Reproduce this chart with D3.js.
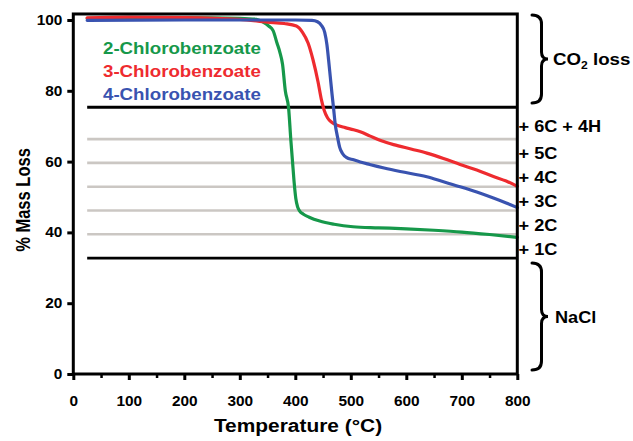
<!DOCTYPE html>
<html>
<head>
<meta charset="utf-8">
<script src="https://cdn.jsdelivr.net/npm/d3@7"></script>
<style>
  html, body { margin: 0; padding: 0; background: #fff; }
  svg { display: block; }
  text { font-family: "Liberation Sans", Arial, Helvetica, sans-serif; font-weight: bold; }
</style>
</head>
<body>
<svg id="chart" width="633" height="441"></svg>
<script>
// ---------------- DATA ----------------
const seriesNames = ["2-Chlorobenzoate", "3-Chlorobenzoate", "4-Chlorobenzoate"];
const seriesColors = ["#16984a", "#ee2b2f", "#3953b0"];

const tempGreen = [25, 100, 200, 300, 330, 342, 352, 360, 367, 372, 377, 382, 388, 392, 395, 398, 401, 404, 408, 414, 425, 444, 470, 504, 550, 600, 650, 700, 750, 800];
const massGreen = [100.5, 100.7, 100.7, 100.5, 100.2, 99.4, 98.3, 97.0, 93.5, 91.0, 87.5, 80.0, 75.0, 66.0, 60.0, 54.0, 49.5, 47.3, 46.0, 45.2, 44.3, 43.2, 42.3, 41.6, 41.3, 41.0, 40.6, 40.1, 39.4, 38.6];

const tempRed = [25, 100, 200, 300, 350, 380, 402, 413, 423, 432, 441, 447, 452, 458, 465, 475, 490, 505, 517, 535, 555, 577, 610, 637, 667, 697, 727, 757, 780, 800];
const massRed = [100.6, 100.8, 100.7, 100.2, 99.4, 99.0, 98.3, 96.5, 93.5, 88.7, 82.5, 77.5, 74.5, 72.4, 71.2, 70.3, 69.6, 69.0, 68.4, 67.2, 65.9, 64.8, 63.5, 62.4, 60.9, 59.2, 57.6, 55.8, 54.5, 53.0];

const tempBlue = [25, 200, 300, 400, 430, 440, 447, 453, 457, 460, 463, 466, 469, 472, 476, 480, 485, 492, 505, 517, 534, 560, 589, 637, 667, 697, 727, 757, 780, 800];
const massBlue = [99.9, 100.0, 100.0, 100.0, 99.9, 99.5, 98.5, 96.5, 93.0, 88.7, 84.0, 79.3, 75.0, 70.5, 67.0, 64.0, 62.3, 61.2, 60.5, 59.9, 59.2, 58.2, 57.2, 55.7, 54.3, 52.9, 51.4, 49.7, 48.3, 47.0];

// Reference levels (% of sodium chlorobenzoate mass)
const blackLevels = [75.35, 32.73];
const grayLevels = [66.36, 59.64, 52.91, 46.18, 39.46];
const fragmentLabels = ["+ 6C + 4H", "+ 5C", "+ 4C", "+ 3C", "+ 2C", "+ 1C"];
const fragmentBounds = [75.35, 66.36, 59.64, 52.91, 46.18, 39.46, 32.73];
const levelStartTemp = 25;

const xTicks = [0, 100, 200, 300, 400, 500, 600, 700, 800];
const xMinorTicks = [50, 150, 250, 350, 450, 550, 650, 750];
const yTicks = [0, 20, 40, 60, 80, 100];

const xDomain = [0, 800];
const yDomain = [0, 100];

// ---------------- LAYOUT ----------------
const SX = 1.1; // horizontal glyph stretch of the original
const svg = d3.select("#chart");
const x = d3.scaleLinear().domain(xDomain).range([73.3, 517.3]);
const y = d3.scaleLinear().domain(yDomain).range([374, 20]);
const yTop = 101.7;

function stretchText(g, px, py, str, size, anchor, color) {
  return g.append("text")
    .attr("transform", `translate(${px},${py}) scale(${SX},1)`)
    .attr("text-anchor", anchor || "start")
    .attr("font-size", size)
    .attr("fill", color || "#000")
    .text(str);
}

// reference lines
const refG = svg.append("g");
refG.selectAll("line.gray").data(grayLevels).join("line")
  .attr("class", "gray")
  .attr("x1", x(levelStartTemp)).attr("x2", x(800))
  .attr("y1", d => y(d)).attr("y2", d => y(d))
  .attr("stroke", "#cbc7c3").attr("stroke-width", 2.6);
refG.selectAll("line.black").data(blackLevels).join("line")
  .attr("class", "black")
  .attr("x1", x(levelStartTemp)).attr("x2", x(800))
  .attr("y1", d => y(d)).attr("y2", d => y(d))
  .attr("stroke", "#000").attr("stroke-width", 2.8);

// curves
const series = [
  { t: tempGreen, m: massGreen },
  { t: tempRed, m: massRed },
  { t: tempBlue, m: massBlue }
];
const line = d3.line()
  .x(d => x(d[0])).y(d => y(d[1]))
  .curve(d3.curveMonotoneX);
series.forEach((s, i) => {
  const pts = s.t.map((t, k) => [t, s.m[k]]);
  svg.append("path")
    .datum(pts)
    .attr("d", line)
    .attr("fill", "none")
    .attr("stroke", seriesColors[i])
    .attr("stroke-width", 3.2)
    .attr("stroke-linejoin", "round")
    .attr("stroke-linecap", "round");
});

// frame (top and right)
svg.append("rect")
  .attr("x", x(0)).attr("y", y(yTop))
  .attr("width", x(800) - x(0)).attr("height", y(0) - y(yTop))
  .attr("fill", "none").attr("stroke", "#000").attr("stroke-width", 3);

// axes
const yAxis = d3.axisLeft(y).tickValues(yTicks).tickSize(6).tickSizeOuter(0).tickPadding(4);
const yG = svg.append("g").attr("transform", `translate(${x(0)},0)`).call(yAxis);
yG.select(".domain").remove();
yG.selectAll(".tick line").attr("stroke", "#000").attr("stroke-width", 3);
yG.selectAll(".tick text")
  .attr("font-size", 14).attr("fill", "#000")
  .attr("font-family", "'Liberation Sans', Arial, sans-serif")
  .attr("font-weight", "bold")
  .attr("transform", `scale(${SX},1)`);

const xAxis = d3.axisBottom(x).tickValues(xTicks).tickSize(6).tickSizeOuter(0).tickPadding(16);
const xG = svg.append("g").attr("transform", `translate(0,${y(0)})`).call(xAxis);
xG.select(".domain").remove();
xG.selectAll(".tick line").attr("stroke", "#000").attr("stroke-width", 3);
xG.selectAll(".tick text")
  .attr("font-size", 14).attr("fill", "#000")
  .attr("font-family", "'Liberation Sans', Arial, sans-serif")
  .attr("font-weight", "bold")
  .attr("transform", `scale(${SX},1)`);

const xMinor = d3.axisBottom(x).tickValues(xMinorTicks).tickSize(4).tickSizeOuter(0).tickFormat("");
const xmG = svg.append("g").attr("transform", `translate(0,${y(0)})`).call(xMinor);
xmG.select(".domain").remove();
xmG.selectAll(".tick line").attr("stroke", "#000").attr("stroke-width", 2.5);

// axis titles
stretchText(svg, 298, 432, "Temperature (°C)", 19, "middle");
svg.append("text")
  .attr("transform", `translate(30,200) rotate(-90) scale(1,1.2)`)
  .attr("text-anchor", "middle")
  .attr("font-size", 16.5)
  .text("% Mass Loss");

// legend
const legendY = [54, 77, 100];
seriesNames.forEach((n, i) => {
  stretchText(svg, 103, legendY[i], n, 17, "start", seriesColors[i]);
});

// fragment labels on the right
fragmentLabels.forEach((lab, i) => {
  const mid = (fragmentBounds[i] + fragmentBounds[i + 1]) / 2;
  stretchText(svg, 518.5, y(mid) + 2.5 + 6, lab, 16.5, "start");
});

// braces
function brace(x0, xs, xt, y0, y1) {
  const ym = (y0 + y1) / 2;
  const p = d3.path();
  p.moveTo(x0, y0);
  p.quadraticCurveTo(xs, y0, xs, y0 + 9);
  p.lineTo(xs, ym - 7);
  p.quadraticCurveTo(xs, ym, xt, ym);
  p.quadraticCurveTo(xs, ym, xs, ym + 7);
  p.lineTo(xs, y1 - 9);
  p.quadraticCurveTo(xs, y1, x0, y1);
  svg.append("path").attr("d", p.toString())
    .attr("fill", "none").attr("stroke", "#000").attr("stroke-width", 3)
    .attr("stroke-linecap", "round");
  return ym;
}
const ymCO2 = brace(532, 541.5, 548, 15, 103);
const co2 = svg.append("text")
  .attr("transform", `translate(553,${ymCO2 + 6}) scale(${SX},1)`)
  .attr("font-size", 17);
co2.append("tspan").text("CO");
co2.append("tspan").attr("font-size", 11).attr("dy", 4).text("2");
co2.append("tspan").attr("dy", -4).text(" loss");

const ymNa = brace(532, 541.5, 548, 263, 370);
stretchText(svg, 555, ymNa + 6, "NaCl", 16.5, "start");
</script>
</body>
</html>
